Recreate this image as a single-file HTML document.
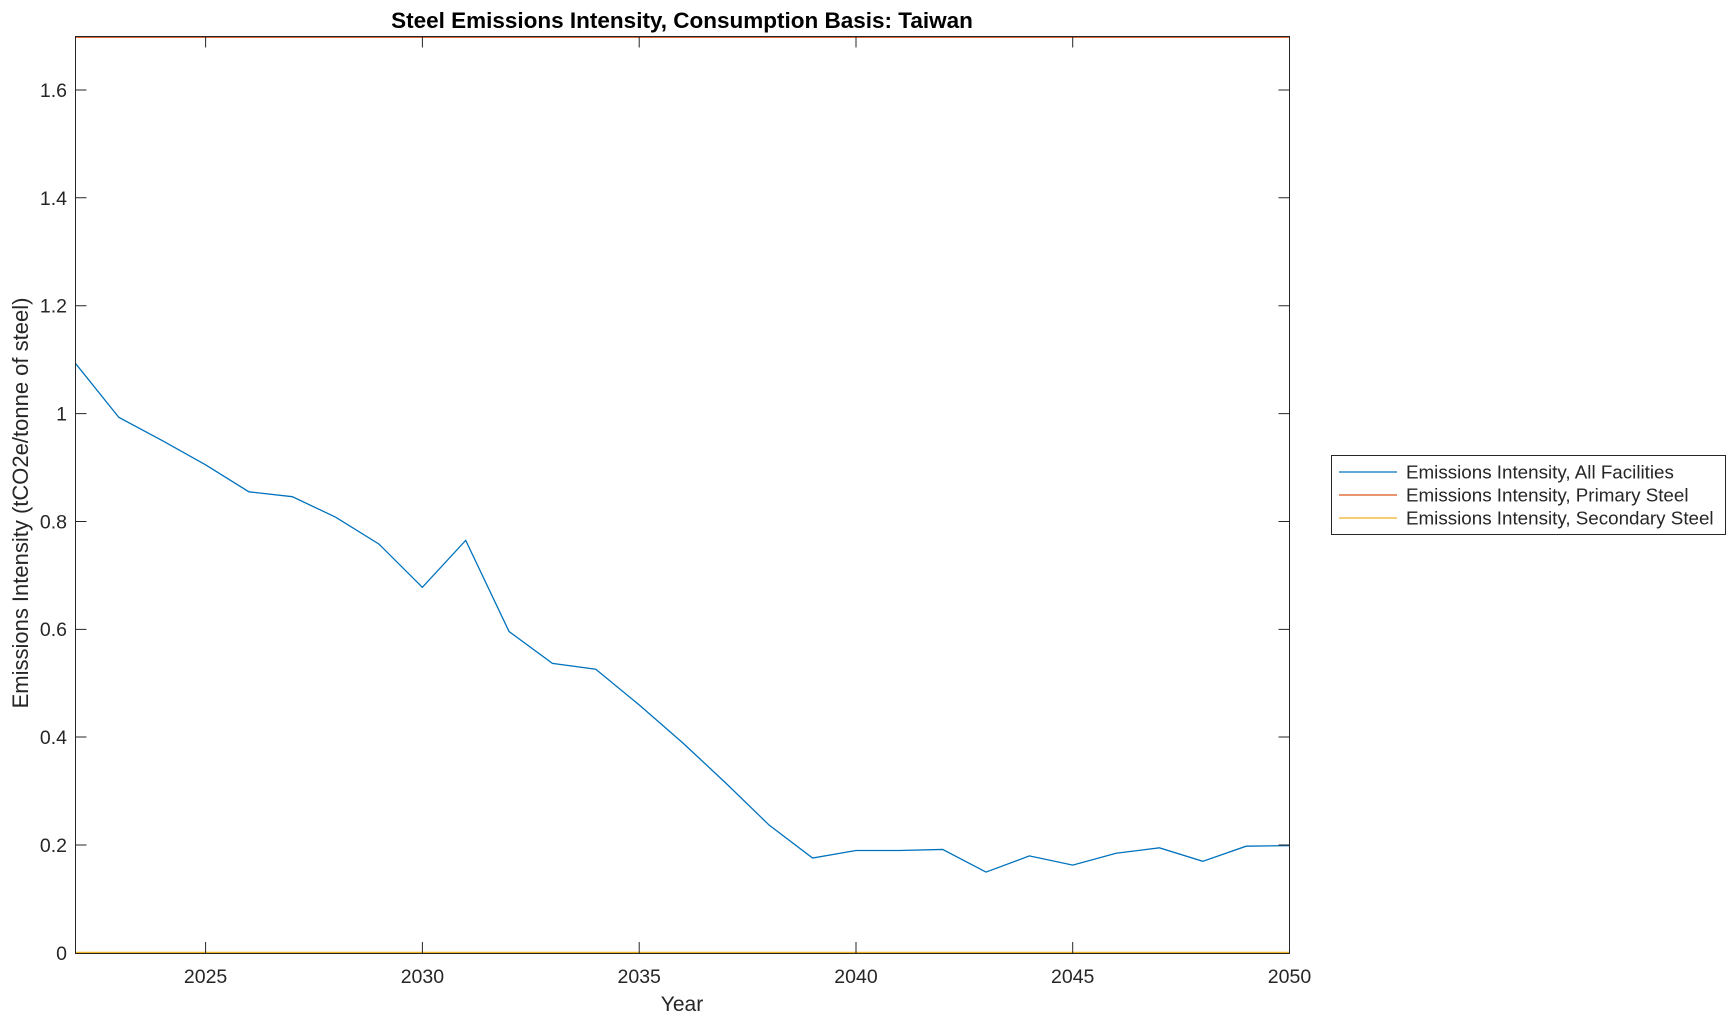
<!DOCTYPE html>
<html><head><style>body{margin:0;background:#fff}svg{display:block}text{font-family:"Liberation Sans",Arial,sans-serif;fill:#262626}</style></head>
<body>
<svg width="1736" height="1021" viewBox="0 0 1736 1021" xmlns="http://www.w3.org/2000/svg">
<rect width="1736" height="1021" fill="#fff"/>
<g transform="translate(75.5,953) scale(43.357,-539.4)" fill="none">
<polyline vector-effect="non-scaling-stroke" stroke="#0072BD" stroke-width="1.3" points="0,1.093 1,0.993 2,0.95 3,0.905 4,0.855 5,0.846 6,0.808 7,0.758 8,0.678 9,0.765 10,0.596 11,0.537 12,0.526 13,0.46 14,0.39 15,0.315 16,0.237 17,0.176 18,0.19 19,0.19 20,0.192 21,0.15 22,0.18 23,0.163 24,0.185 25,0.195 26,0.17 27,0.198 28,0.199"/>
<polyline vector-effect="non-scaling-stroke" stroke="#D95319" stroke-width="1.6" points="0,1.698 28,1.698"/>
<polyline vector-effect="non-scaling-stroke" stroke="#EDB120" stroke-width="1.5" points="0,0.001 28,0.001"/>
</g>
<rect x="75.5" y="36.5" width="1214" height="917" fill="none" stroke="#262626" stroke-width="1"/>
<g stroke="#262626" stroke-width="1">
<path d="M205.6,953v-11M205.6,36.5v11M422.4,953v-11M422.4,36.5v11M639.2,953v-11M639.2,36.5v11M856,953v-11M856,36.5v11M1072.7,953v-11M1072.7,36.5v11"/>
<path d="M75.5,845h11M1289.5,845h-11M75.5,737h11M1289.5,737h-11M75.5,629.4h11M1289.5,629.4h-11M75.5,521.5h11M1289.5,521.5h-11M75.5,413.6h11M1289.5,413.6h-11M75.5,305.7h11M1289.5,305.7h-11M75.5,197.8h11M1289.5,197.8h-11M75.5,90h11M1289.5,90h-11"/>
</g>
<g font-size="19.5" text-anchor="middle">
<text x="205.6" y="983">2025</text><text x="422.4" y="983">2030</text><text x="639.2" y="983">2035</text><text x="856" y="983">2040</text><text x="1072.7" y="983">2045</text><text x="1289.5" y="983">2050</text>
</g>
<g font-size="19.5" text-anchor="end">
<text x="67" y="960">0</text><text x="67" y="852">0.2</text><text x="67" y="744">0.4</text><text x="67" y="636">0.6</text><text x="67" y="528.5">0.8</text><text x="67" y="420.6">1</text><text x="67" y="312.7">1.2</text><text x="67" y="204.8">1.4</text><text x="67" y="97">1.6</text>
</g>
<text x="682" y="1011" font-size="21" text-anchor="middle">Year</text>
<text transform="translate(28,503) rotate(-90)" font-size="22" text-anchor="middle">Emissions Intensity (tCO2e/tonne of steel)</text>
<text x="682" y="28" font-size="22.5" font-weight="bold" text-anchor="middle" style="fill:#000">Steel Emissions Intensity, Consumption Basis: Taiwan</text>
<rect x="1331.5" y="455.5" width="394" height="79" fill="#fff" stroke="#262626" stroke-width="1"/>
<line x1="1339" y1="472" x2="1397" y2="472" stroke="#0072BD" stroke-width="1.3"/>
<line x1="1339" y1="495" x2="1397" y2="495" stroke="#D95319" stroke-width="1.3"/>
<line x1="1339" y1="518" x2="1397" y2="518" stroke="#EDB120" stroke-width="1.3"/>
<g font-size="18.8" style="fill:#000">
<text x="1406" y="478.5">Emissions Intensity, All Facilities</text>
<text x="1406" y="501.5">Emissions Intensity, Primary Steel</text>
<text x="1406" y="524.5">Emissions Intensity, Secondary Steel</text>
</g>
</svg>
</body></html>
